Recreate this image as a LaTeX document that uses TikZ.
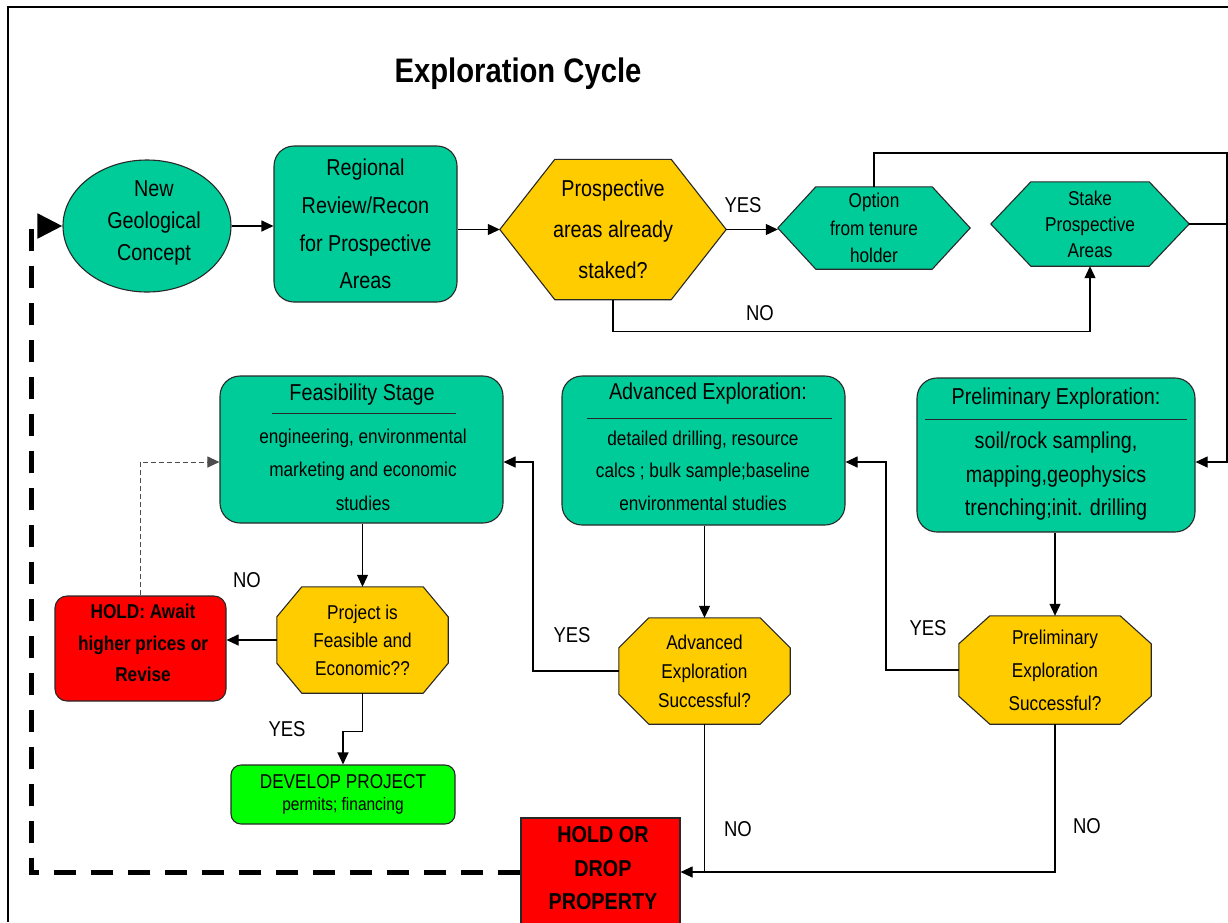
\documentclass[tikz,border=0pt]{standalone}
\usepackage{fontspec}
\setmainfont[FakeStretch=0.86]{Liberation Sans}
\usetikzlibrary{arrows.meta,shapes.geometric,calc,backgrounds}
\definecolor{tealA}{RGB}{0,204,153}
\definecolor{yellowA}{RGB}{255,204,0}
\definecolor{redA}{RGB}{255,0,0}
\definecolor{greenA}{RGB}{0,255,0}
\definecolor{bord}{RGB}{40,40,40}
\newcommand{\myhex}[3]{%
  \begin{scope}[on background layer]
  \filldraw[fill=#3, draw=bord, line width=1.1pt] (#1.west) -- ($(#1.north west)+(#2,0)$) -- ($(#1.north east)+(-#2,0)$) -- (#1.east) -- ($(#1.south east)+(-#2,0)$) -- ($(#1.south west)+(#2,0)$) -- cycle;
  \end{scope}}
\newcommand{\myoct}[4]{%
  \begin{scope}[on background layer]
  \filldraw[fill=#4, draw=bord, line width=1.1pt] ($(#1.north west)+(#2,0)$) -- ($(#1.north east)+(-#2,0)$) -- ($(#1.north east)+(0,#3)$) -- ($(#1.south east)+(0,-#3)$) -- ($(#1.south east)+(-#2,0)$) -- ($(#1.south west)+(#2,0)$) -- ($(#1.south west)+(0,-#3)$) -- ($(#1.north west)+(0,#3)$) -- cycle;
  \end{scope}}
\tikzset{
  rbox/.style={draw=bord, line width=1.1pt, fill=tealA, rounded corners=20pt, inner sep=0pt},
  poly/.style={inner sep=0pt, align=center},
  txtbig/.style={align=center, inner sep=0pt, font=\fontsize{23}{38}\selectfont},
  conn/.style={line width=1.1pt, -{Triangle[length=12pt,width=11pt]}},
  plainline/.style={line width=1.1pt},
  lbl/.style={inner sep=0pt, font=\fontsize{21.5}{24}\selectfont},
  uline/.style={line width=1pt, draw=bord},
  bigdash/.style={line width=5pt, dash pattern=on 22pt off 15pt, -{Triangle[length=25pt,width=24pt]}},
  holddash/.style={line width=1pt, draw=black!70, dash pattern=on 5pt off 3pt, -{Triangle[length=12pt,width=11pt]}}
}
\begin{document}
\begin{tikzpicture}[x=1pt,y=-1pt]
\useasboundingbox (0,0) rectangle (1228,922);
% frame
\draw[line width=2pt] (8,922) -- (8,7) -- (1228,7);
% title
\node[font=\bfseries\fontsize{34}{40}\selectfont] (title) at (518,74) {Exploration Cycle};
% top row
\node[ellipse, draw=bord, line width=1.1pt, fill=tealA, minimum width=168pt, minimum height=132pt, inner sep=0pt] (ell) at (147,226) {};
\node[inner sep=0pt, align=center, font=\fontsize{23}{32}\selectfont] (ellT) at (154,223) {New\\Geological\\Concept};
\node[rbox, txtbig, minimum width=183pt, minimum height=156pt, font=\fontsize{23}{37.7}\selectfont] (reg) at (365.5,224) {Regional\\Review/Recon\\for Prospective\\Areas};
\node[poly, minimum width=226pt, minimum height=140pt, font=\fontsize{23}{41}\selectfont] (hexA) at (613,229.5) {Prospective\\areas already\\staked?};
\myhex{hexA}{55}{yellowA}
\node[poly, minimum width=192pt, minimum height=82pt, font=\fontsize{20}{27.5}\selectfont] (opt) at (874,228) {Option\\from tenure\\holder};
\myhex{opt}{38}{tealA}
\node[poly, minimum width=198pt, minimum height=84pt, font=\fontsize{20}{26}\selectfont] (stake) at (1090,224) {Stake\\Prospective\\Areas};
\myhex{stake}{40}{tealA}
% second row boxes
\node[rbox, minimum width=283pt, minimum height=147pt] (feas) at (361.5,449.5) {};
\node[inner sep=0pt, font=\fontsize{23}{28}\selectfont] (feasT) at (362,395) {Feasibility Stage};
\draw[uline] (272,413) -- (456,413);
\node[inner sep=0pt, align=center, font=\fontsize{20}{33.5}\selectfont] (feasB) at (363,469.5) {engineering, environmental\\marketing and economic\\studies};
\node[rbox, minimum width=283pt, minimum height=149pt] (adv) at (703.5,450.5) {};
\node[inner sep=0pt, font=\fontsize{23}{28}\selectfont] (advT) at (708,394) {Advanced Exploration:};
\draw[uline] (587,418) -- (832,418);
\node[inner sep=0pt, align=center, font=\fontsize{20}{32.5}\selectfont] (advB) at (703,470.5) {detailed drilling, resource\\calcs ; bulk sample;baseline\\environmental studies};
\node[rbox, minimum width=278pt, minimum height=154pt] (prel) at (1056,455) {};
\node[inner sep=0pt, font=\fontsize{23}{28}\selectfont] (prelT) at (1056,399) {Preliminary Exploration:};
\draw[uline] (925,419) -- (1187,419);
\node[inner sep=0pt, align=center, font=\fontsize{23}{33.5}\selectfont] (prelB) at (1056,476.5) {soil/rock sampling,\\mapping,geophysics\\trenching;init. drilling};
% decision octagons
\node[poly, minimum width=171pt, minimum height=106pt, font=\fontsize{20}{28}\selectfont] (proj) at (362.5,640) {Project is\\Feasible and\\Economic??};
\myoct{proj}{25}{30}{yellowA}
\node[poly, minimum width=171pt, minimum height=106pt, font=\fontsize{20}{29}\selectfont] (advo) at (704.5,671) {Advanced\\Exploration\\Successful?};
\myoct{advo}{30}{30}{yellowA}
\node[poly, minimum width=192pt, minimum height=108pt, font=\fontsize{20}{33}\selectfont] (prelo) at (1055,670) {Preliminary\\Exploration\\Successful?};
\myoct{prelo}{31}{28}{yellowA}
% outcome boxes
\node[draw=bord, line width=1.1pt, fill=redA, rounded corners=12pt, minimum width=171pt, minimum height=105pt, inner sep=0pt] (hold) at (140.5,648.5) {};
\node[inner sep=0pt, align=center, font=\bfseries\fontsize{20}{31.5}\selectfont] (holdT) at (143,643) {HOLD: Await\\higher prices or\\Revise};
\node[draw=bord, line width=1.1pt, fill=greenA, rounded corners=10pt, minimum width=224pt, minimum height=59pt, inner sep=0pt, align=center, font=\fontsize{20}{22}\selectfont] (dev) at (343,794.5) {DEVELOP PROJECT\\{\fontsize{18}{22}\selectfont permits; financing}};
\node[draw=bord, line width=1.1pt, fill=redA, minimum width=159pt, minimum height=108pt, inner sep=0pt] (hd) at (600.5,872) {};
\node[inner sep=0pt, align=center, font=\bfseries\fontsize{23}{33.5}\selectfont] (hdT) at (603,868.5) {HOLD OR\\DROP\\PROPERTY};
% labels
\node[lbl] (yesA) at (743,205) {YES};
\node[lbl] (noA) at (760,313) {NO};
\node[lbl] (noB) at (247,580) {NO};
\node[lbl] (yesB) at (287,729) {YES};
\node[lbl] (yesC) at (572,635) {YES};
\node[lbl] (yesD) at (928,628) {YES};
\node[lbl] (noC) at (738,829) {NO};
\node[lbl] (noD) at (1087,826) {NO};
% coordinates
\coordinate (rt) at (1227,462);
\coordinate (topr) at (1227,153);
\coordinate (ay) at (533,462);
\coordinate (py) at (886,462);
\coordinate (dl) at (31,226);
% connectors top row
\draw[conn] (ell.east) -- (ell.east -| reg.west);
\draw[conn] (reg.east |- hexA.west) -- (hexA.west);
\draw[conn] (hexA.east) -- (hexA.east -| opt.west);
\draw[conn] (opt.north) |- (topr) -- (rt) -- (rt -| prel.east);
\draw[plainline] (stake.east) -- (stake.east -| rt);
\draw[conn] (hexA.south) -- ++(0,31.5) -| (stake.south);
% second row
\draw[conn] (proj.north |- feas.south) -- (proj.north);
\draw[conn] (proj.west) -- (proj.west -| hold.east);
\draw[holddash] (hold.north) |- (feas.west |- rt);
\draw[conn] (proj.south) -- ++(0,38) -| (dev.north);
\draw[conn] (advo.north |- adv.south) -- (advo.north);
\draw[conn] (advo.west) -| (ay) -- (ay -| feas.east);
\draw[conn] (prelo.north |- prel.south) -- (prelo.north);
\draw[conn] (prelo.west) -| (py) -- (py -| adv.east);
\draw[conn] (prelo.south) |- (hd.east);
\draw[plainline] (advo.south) -- (advo.south |- hd.east);
% big return loop
\draw[bigdash] (hd.west) -| (dl) -- (ell.west);
\end{tikzpicture}
\end{document}
